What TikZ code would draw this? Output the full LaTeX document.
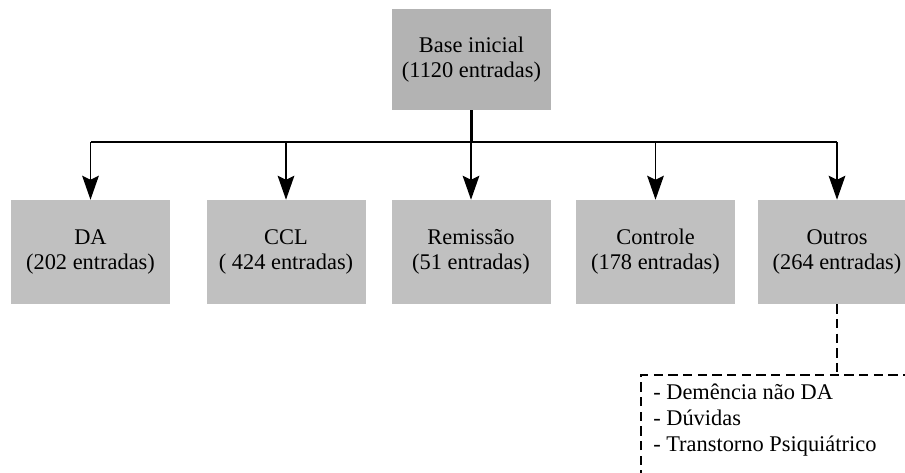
\documentclass[tikz,border=0pt]{standalone}
\usepackage{fontspec}
\setmainfont{Liberation Serif}
\usetikzlibrary{arrows.meta}
\definecolor{topgray}{HTML}{B3B3B3}
\definecolor{boxgray}{HTML}{C0C0C0}
\tikzset{
  topbox/.style={fill=topgray, draw=none, minimum width=119.25pt, minimum height=75.75pt, align=center, inner sep=0pt, font=\fontsize{16.8}{18.9}\selectfont},
  childbox/.style={fill=boxgray, draw=none, minimum width=119.25pt, minimum height=78pt, align=center, inner sep=0pt, font=\fontsize{16.8}{18.9}\selectfont},
  stemline/.style={line width=1.8pt},
  busline/.style={line width=1.2pt},
  branch/.style={line width=1.2pt, -{Stealth[length=18pt,width=12.5pt,inset=3pt]}},
  dashline/.style={line width=0.9pt, dash pattern=on 7pt off 4pt},
  listtext/.style={align=left, inner sep=0pt, anchor=north west, font=\fontsize{16.8}{19.3}\selectfont}
}
\begin{document}
\begin{tikzpicture}[x=0.75pt,y=-0.75pt]
\useasboundingbox (0,0) rectangle (905,472);
\node[topbox] (base) at (471.5,59.5) {Base inicial\\(1120 entradas)};
\node[childbox] (da) at (90.5,252) {DA\\(202 entradas)};
\node[childbox] (ccl) at (286,252) {CCL\\( 424 entradas)};
\node[childbox] (rem) at (471,252) {Remissão\\(51 entradas)};
\node[childbox] (ctl) at (655.5,252) {Controle\\(178 entradas)};
\node[childbox] (out) at (837,252) {Outros\\(264 entradas)};
\coordinate (bus) at (471.5,142);
\draw[stemline] (base.south) -- (bus);
\draw[busline] (bus -| da.north) -- (bus -| out.north);
\foreach \n in {da,ccl,rem,ctl,out}{
  \draw[branch] (bus -| \n.north) -- (\n.north);
}
\node[draw=none, minimum width=240pt, minimum height=100pt, anchor=north west, inner sep=0pt] (obox) at (641,375) {};
\draw[dashline] (out.south) -- (out.south |- obox.north);
\draw[dashline] (obox.south west) -- (obox.north west) -- (obox.north east);
\node[listtext] (olist) at (653,384) {- Demência não DA\\- Dúvidas\\- Transtorno Psiquiátrico};
\end{tikzpicture}
\end{document}
